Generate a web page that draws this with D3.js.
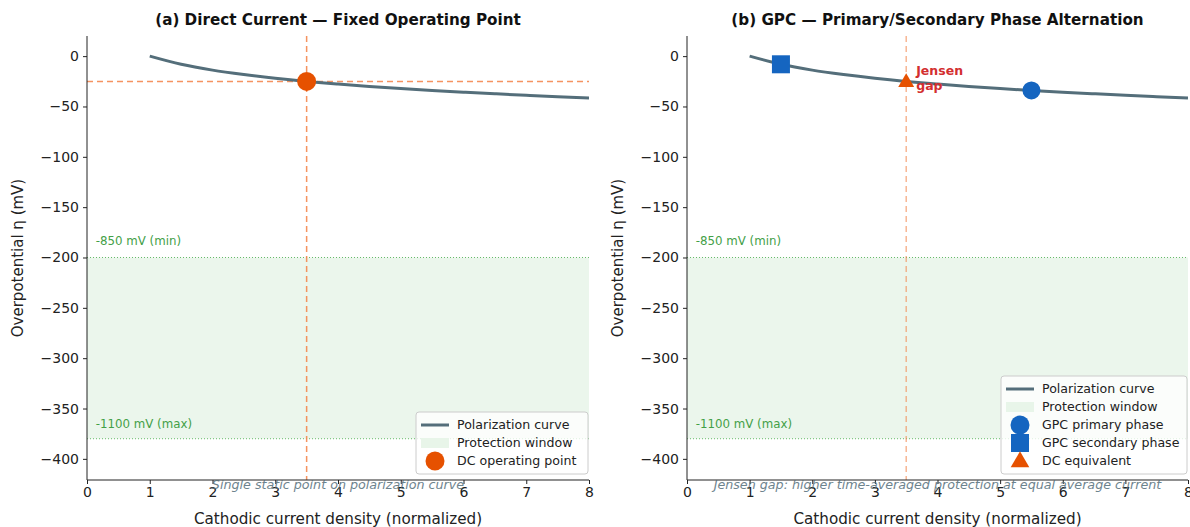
<!DOCTYPE html>
<html>
<head>
<meta charset="utf-8">
<script src="https://cdn.jsdelivr.net/npm/d3@7"></script>
<style>
  body { margin: 0; background: #fff; }
  svg text { font-family: "DejaVu Sans", sans-serif; }
</style>
</head>
<body>
<div id="chart"></div>
<script>
// polarization curve samples (current density, overpotential mV)
var curveX = [1, 1.5, 2, 2.5, 3, 3.5, 4, 4.5, 5, 5.5, 6, 6.5, 7, 7.5, 8]
var curveY = [0, -8.1, -13.9, -18.3, -22.0, -25.1, -27.7, -30.1, -32.2, -34.1, -35.8, -37.4, -38.9, -40.3, -41.6]

// protection window (mV overpotential)
var windowTop = -200, windowBottom = -380
var windowLabels = ['-850 mV (min)', '-1100 mV (max)']

// operating points
var dcPoint = [3.5, -25.1]
var gpcPrimary = [5.5, -34.1]
var gpcSecondary = [1.5, -8.1]

var xTicks = [0, 1, 2, 3, 4, 5, 6, 7, 8]
var yTicks = [0, -50, -100, -150, -200, -250, -300, -350, -400]

var titles = ['(a) Direct Current \u2014 Fixed Operating Point', '(b) GPC \u2014 Primary/Secondary Phase Alternation']
var notes = ['Single static point on polarization curve', 'Jensen gap: higher time-averaged protection at equal average current']

var curveColor = '#546e7a', orange = '#e65100', blue = '#1565c0', green = '#43a047'

var W = 1190, H = 527
var svg = d3.select('#chart').append('svg').attr('width', W).attr('height', H)

var panels = [{left: 87, right: 589}, {left: 687, right: 1188}]
var plotTop = 36, plotBottom = 480

var curve = curveX.map(function(d, i){ return [d, curveY[i]] })

panels.forEach(function(p, k){
	var x = d3.scaleLinear().domain([0, 8]).range([p.left, p.right])
	var y = d3.scaleLinear().domain([-421, 20]).range([plotBottom, plotTop])
	var g = svg.append('g')

	//protection window
	g.append('rect')
		.attr('x', x(0)).attr('y', y(windowTop))
		.attr('width', x(8) - x(0)).attr('height', y(windowBottom) - y(windowTop))
		.style('fill', '#e8f5e9').style('opacity', 0.85)
	;[windowTop, windowBottom].forEach(function(v){
		g.append('line')
			.attr('x1', x(0)).attr('x2', x(8)).attr('y1', y(v)).attr('y2', y(v))
			.style('stroke', '#66bb6a').style('stroke-width', 1).style('stroke-dasharray', '1,2')
	})
	g.append('text').attr('x', x(0.14)).attr('y', y(windowTop + 17)).attr('dy', '0.35em')
		.style('font-size', '11.8px').style('fill', green).text(windowLabels[0])
	g.append('text').attr('x', x(0.14)).attr('y', y(windowBottom + 15)).attr('dy', '0.35em')
		.style('font-size', '11.8px').style('fill', green).text(windowLabels[1])

	//reference lines
	g.append('line')
		.attr('x1', x(dcPoint[0])).attr('x2', x(dcPoint[0])).attr('y1', y(20)).attr('y2', y(-421))
		.style('stroke', '#f4884f').style('stroke-width', k == 0 ? 1.5 : 1.3)
		.style('stroke-dasharray', '6,4').style('opacity', k == 0 ? 0.9 : 0.7)
	if (k == 0) {
		g.append('line')
			.attr('x1', x(0)).attr('x2', x(8)).attr('y1', y(dcPoint[1])).attr('y2', y(dcPoint[1]))
			.style('stroke', '#f4884f').style('stroke-width', 1.5)
			.style('stroke-dasharray', '6,4').style('opacity', 0.9)
	}

	//polarization curve
	var line = d3.line().curve(d3.curveMonotoneX)
		.x(function(d){ return x(d[0]) }).y(function(d){ return y(d[1]) })
	g.append('path').datum(curve).attr('d', line)
		.style('fill', 'none').style('stroke', curveColor).style('stroke-width', 3)

	//axes
	var ax = g.append('g').attr('transform', 'translate(0,' + plotBottom + ')')
		.call(d3.axisBottom(x).tickValues(xTicks).tickSize(4).tickPadding(3).tickFormat(d3.format('d')))
	var ay = g.append('g').attr('transform', 'translate(' + p.left + ',0)')
		.call(d3.axisLeft(y).tickValues(yTicks).tickSize(4).tickPadding(4)
			.tickFormat(function(d){ return d < 0 ? '\u2212' + Math.abs(d) : d }))
	;[ax, ay].forEach(function(a){
		a.select('.domain').remove()
		a.selectAll('text').style('font-size', '14px').style('fill', '#222')
			.style('font-family', '"DejaVu Sans", sans-serif')
		a.selectAll('line').style('stroke', '#222')
	})
	g.append('line').attr('x1', p.left).attr('x2', p.right).attr('y1', plotBottom).attr('y2', plotBottom).style('stroke', '#222')
	g.append('line').attr('x1', p.left).attr('x2', p.left).attr('y1', plotTop).attr('y2', plotBottom).style('stroke', '#222')

	//labels
	g.append('text').attr('x', (p.left + p.right) / 2).attr('y', 524).attr('text-anchor', 'middle')
		.style('font-size', '15.2px').style('fill', '#222').text('Cathodic current density (normalized)')
	g.append('text').attr('transform', 'translate(' + (p.left - 64) + ',' + ((plotTop + plotBottom) / 2) + ') rotate(-90)')
		.attr('text-anchor', 'middle').style('font-size', '15px').style('fill', '#222').text('Overpotential \u03b7 (mV)')
	g.append('text').attr('x', (p.left + p.right) / 2).attr('y', 25).attr('text-anchor', 'middle')
		.style('font-size', '15.2px').style('font-weight', 'bold').style('fill', '#111').text(titles[k])
	g.append('text').attr('x', x(4)).attr('y', plotBottom + 5).attr('dy', '0.35em').attr('text-anchor', 'middle')
		.style('font-size', '12.7px').style('font-style', 'italic').style('fill', curveColor).style('opacity', 0.85)
		.text(notes[k])

	//markers
	if (k == 0) {
		g.append('circle').attr('cx', x(dcPoint[0])).attr('cy', y(dcPoint[1])).attr('r', 9.5).style('fill', orange)
	} else {
		g.append('rect').attr('x', x(gpcSecondary[0]) - 9).attr('y', y(gpcSecondary[1]) - 9)
			.attr('width', 18).attr('height', 18).style('fill', blue)
		g.append('circle').attr('cx', x(gpcPrimary[0])).attr('cy', y(gpcPrimary[1])).attr('r', 9).style('fill', blue)
		g.append('path').attr('d', d3.symbol(d3.symbolTriangle, 110)())
			.attr('transform', 'translate(' + x(dcPoint[0]) + ',' + (y(dcPoint[1]) + 1) + ')')
			.style('fill', orange)
		var jt = g.append('text').style('font-size', '12.5px')
			.style('font-weight', 'bold').style('fill', '#d32f2f')
		jt.append('tspan').attr('x', x(dcPoint[0]) + 10).attr('y', y(dcPoint[1]) - 6).text('Jensen')
		jt.append('tspan').attr('x', x(dcPoint[0]) + 10).attr('y', y(dcPoint[1]) + 9).text('gap')
	}

	//legend
	var items = k == 0
		? [['line', 'Polarization curve'], ['patch', 'Protection window'], ['circle', 'DC operating point', orange]]
		: [['line', 'Polarization curve'], ['patch', 'Protection window'], ['circle', 'GPC primary phase', blue],
		   ['square', 'GPC secondary phase', blue], ['triangle', 'DC equivalent', orange]]
	var lw = k == 0 ? 172 : 186, lh = 8 + items.length * 18
	var lx = p.right - 1 - lw, ly = plotBottom - 6 - lh
	var leg = g.append('g').attr('transform', 'translate(' + lx + ',' + ly + ')')
	leg.append('rect').attr('width', lw).attr('height', lh).attr('rx', 3)
		.style('fill', 'rgba(255,255,255,0.8)').style('stroke', '#ccc')
	items.forEach(function(it, i){
		var cy = 13 + i * 18, row = leg.append('g')
		if (it[0] == 'line') row.append('line').attr('x1', 5).attr('x2', 33).attr('y1', cy).attr('y2', cy)
			.style('stroke', curveColor).style('stroke-width', 3)
		if (it[0] == 'patch') row.append('rect').attr('x', 5).attr('y', cy - 5).attr('width', 28).attr('height', 10)
			.style('fill', '#e8f5e9')
		if (it[0] == 'circle') row.append('circle').attr('cx', 19).attr('cy', cy).attr('r', 9.5).style('fill', it[2])
		if (it[0] == 'square') row.append('rect').attr('x', 10).attr('y', cy - 9).attr('width', 18).attr('height', 18).style('fill', it[2])
		if (it[0] == 'triangle') row.append('path').attr('d', d3.symbol(d3.symbolTriangle, 150)())
			.attr('transform', 'translate(19,' + (cy + 1) + ')').style('fill', it[2])
		row.append('text').attr('x', 41).attr('y', cy).attr('dy', '0.35em')
			.style('font-size', '12.6px').style('fill', '#222').text(it[1])
	})
})
</script>
</body>
</html>
